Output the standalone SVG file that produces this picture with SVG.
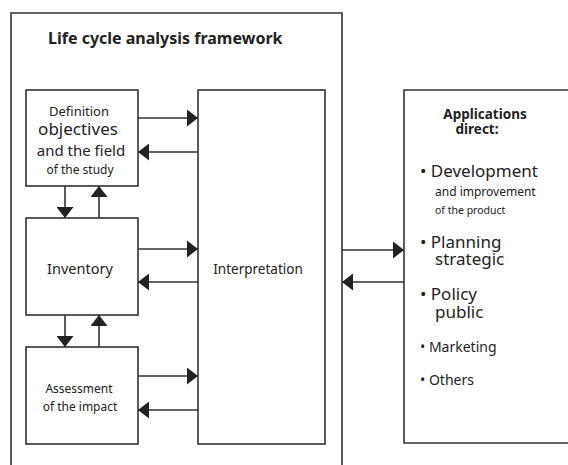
<svg xmlns="http://www.w3.org/2000/svg" width="568" height="465" viewBox="0 0 568 465">
  <style>
    .box { fill: #ffffff; stroke: #333333; stroke-width: 1.6; }
    .frame { fill: none; stroke: #333333; stroke-width: 1.6; }
    .link { fill: none; stroke: #333333; stroke-width: 1.6; marker-end: url(#head); }
    text { font-family: "Noto Sans", "Open Sans", "DejaVu Sans", sans-serif; fill: #222222; }
    .c { text-anchor: middle; }
    .b { font-weight: bold; }
  </style>
  <defs>
    <marker id="head" markerUnits="userSpaceOnUse" markerWidth="11" markerHeight="17" viewBox="0 0 11 17" refX="11" refY="8.5" orient="auto">
      <path d="M0,0 L11,8.5 L0,17 z" fill="#222222"/>
    </marker>
  </defs>
  <rect width="568" height="465" fill="#ffffff"/>

  <!-- framework enclosure, open at the bottom -->
  <g id="framework">
    <path class="frame" d="M11,470 V13 H342 V470"/>
    <text class="b" x="48" y="44" font-size="16">Life cycle analysis framework</text>
  </g>

  <g id="definition">
    <rect class="box" x="26" y="90" width="112" height="96"/>
    <text class="c" x="79" y="116" font-size="13">Definition</text>
    <text class="c" x="78" y="135" font-size="17">objectives</text>
    <text class="c" x="81" y="156" font-size="15">and the field</text>
    <text class="c" x="80" y="174" font-size="12">of the study</text>
  </g>

  <g id="inventory">
    <rect class="box" x="26" y="218" width="112" height="97"/>
    <text class="c" x="80" y="274" font-size="14.5">Inventory</text>
  </g>

  <g id="assessment">
    <rect class="box" x="26" y="347" width="112" height="97"/>
    <text class="c" x="79" y="393" font-size="12">Assessment</text>
    <text class="c" x="80" y="411" font-size="12">of the impact</text>
  </g>

  <g id="interpretation">
    <rect class="box" x="198" y="90" width="127" height="354"/>
    <text class="c" x="258" y="274" font-size="13.5">Interpretation</text>
  </g>

  <g id="applications">
    <path class="frame" d="M575,90 H404 V443 H575"/>
    <text class="c b" x="485" y="119" font-size="13.5">Applications</text>
    <text class="c b" x="477" y="134" font-size="13.5">direct:</text>
    <text x="420" y="177" font-size="17">• Development</text>
    <text x="435" y="196" font-size="12">and improvement</text>
    <text x="435" y="214" font-size="10.5">of the product</text>
    <text x="420" y="248" font-size="17">• Planning</text>
    <text x="435" y="265" font-size="17">strategic</text>
    <text x="420" y="300" font-size="17">• Policy</text>
    <text x="435" y="318" font-size="17">public</text>
    <text x="420" y="352" font-size="14">• Marketing</text>
    <text x="420" y="385" font-size="14">• Others</text>
  </g>

  <g id="connectors">
    <path class="link" d="M138,118 H198"/>
    <path class="link" d="M198,152 H138"/>
    <path class="link" d="M138,249 H198"/>
    <path class="link" d="M198,282 H138"/>
    <path class="link" d="M138,376 H198"/>
    <path class="link" d="M198,410 H138"/>
    <path class="link" d="M65,186 V218"/>
    <path class="link" d="M99,218 V186"/>
    <path class="link" d="M65,315 V347"/>
    <path class="link" d="M99,347 V315"/>
    <path class="link" d="M342,250 H404"/>
    <path class="link" d="M404,282 H342"/>
  </g>
</svg>
